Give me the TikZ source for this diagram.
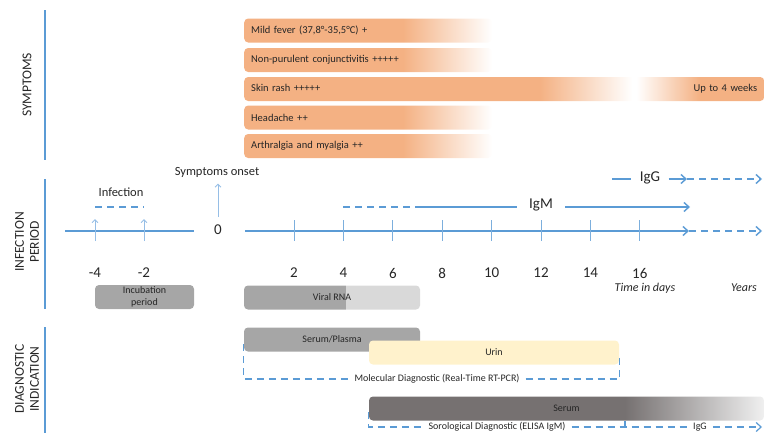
\documentclass[tikz,border=0pt]{standalone}
\usepackage{fontspec}
\setmainfont{Carlito}
\usepackage{xcolor}
\usepackage{tikz}
\usetikzlibrary{positioning,shapes,arrows,arrows.meta,calc}
\definecolor{lineblue}{RGB}{91,155,213}
\definecolor{lightblue}{RGB}{150,190,230}
\definecolor{symorange}{RGB}{244,177,131}
\definecolor{boxgray}{RGB}{166,166,166}
\definecolor{palegray}{RGB}{217,217,217}
\definecolor{urincream}{RGB}{255,242,204}
\definecolor{serumgray}{RGB}{118,113,113}
\definecolor{serumlight}{RGB}{240,240,240}
\definecolor{textgray}{RGB}{38,38,38}

% shadings (25bp = left edge, 75bp = right edge of the box)
\pgfdeclarehorizontalshading{symfade}{100bp}{color(0bp)=(symorange); color(57bp)=(symorange); color(75bp)=(white); color(100bp)=(white)}
\pgfdeclarehorizontalshading{rashfade}{100bp}{color(0bp)=(symorange); color(53.4bp)=(symorange); color(62.3bp)=(white); color(62.7bp)=(white); color(68.8bp)=(symorange); color(100bp)=(symorange)}
\pgfdeclarehorizontalshading{rnasplit}{100bp}{color(0bp)=(boxgray); color(53.7bp)=(boxgray); color(53.8bp)=(palegray); color(100bp)=(palegray)}
\pgfdeclarehorizontalshading{serumfade}{100bp}{color(0bp)=(serumgray); color(57.4bp)=(serumgray); color(75bp)=(serumlight); color(100bp)=(serumlight)}

\begin{document}
\begin{tikzpicture}[x=1pt, y=-1pt, >={Straight Barb[length=5pt, width=9pt]}]
    % Define styles
    \tikzstyle{seclabel} = [rotate=90, align=center, text=textgray, font=\fontsize{13.5}{15}\selectfont]
    \tikzstyle{secline} = [draw=lineblue, line width=1.5pt]
    \tikzstyle{symbar} = [rectangle, rounded corners=4pt, minimum height=24pt, inner xsep=7pt, inner ysep=0pt, text width=234pt, align=left, anchor=west, text=textgray, font=\fontsize{10.5}{12}\selectfont, shading=symfade]
    \tikzstyle{sample} = [rectangle, rounded corners=4pt, minimum height=24pt, inner ysep=0pt, align=center, text=textgray, font=\fontsize{10}{11.5}\selectfont]
    \tikzstyle{numlabel} = [text=textgray, font=\fontsize{15}{17}\selectfont]
    \tikzstyle{eventlabel} = [text=textgray, font=\fontsize{12.5}{14}\selectfont]
    \tikzstyle{unitlabel} = [text=textgray, font=\fontsize{12}{14}\selectfont\itshape]
    \tikzstyle{brlabel} = [text=textgray, inner xsep=6pt, font=\fontsize{10}{12}\selectfont]
    \tikzstyle{axisline} = [draw=lineblue, line width=1.4pt]
    \tikzstyle{tickline} = [draw=lineblue!80, line width=0.9pt]
    \tikzstyle{dashline} = [draw=lineblue, line width=1.4pt, dash pattern=on 7pt off 5pt]
    \tikzstyle{bracket} = [draw=lineblue, line width=1.2pt, dash pattern=on 7pt off 5pt]
    \tikzstyle{uparrow} = [draw=lightblue, line width=0.9pt, -{Straight Barb[length=3pt, width=6pt]}]

    \useasboundingbox (0,0) rectangle (764,439);

    % Sections
    \node [seclabel] (symlab) at (27,85) {SYMPTOMS};
    \node [seclabel] (inflab) at (27,242) {INFECTION\\PERIOD};
    \node [seclabel] (diaglab) at (27,379) {DIAGNOSTIC\\INDICATION};
    \draw [secline] (45,10) -- (45,160);
    \draw [secline] (45,179) -- (45,309);
    \draw [secline] (45,327) -- (45,433);

    % Symptoms
    \node [symbar] (fever) at (244,30.5) {Mild fever (37,8°-35,5°C) +};
    \node [symbar] (conj) at (244,60) {Non-purulent conjunctivitis +++++};
    \node [symbar, text width=506pt, shading=rashfade] (rash) at (244,89) {Skin rash +++++\hfill Up to 4 weeks};
    \node [symbar] (headache) at (244,117.5) {Headache ++};
    \node [symbar] (arthr) at (244,146) {Arthralgia and myalgia ++};

    % Time axis
    \coordinate (axstart) at (65,231);
    \coordinate (axbreakL) at (194,231);
    \coordinate (axbreakR) at (245,231);
    \coordinate (axdays) at (689,231);
    \coordinate (axyears) at (762,231);
    \node [numlabel] (zero) at (218,230) {0};
    \draw [axisline] (axstart) -- (axbreakL);
    \draw [axisline, ->] (axbreakR) -- (axdays);
    \draw [dashline, ->] (axdays) -- (axyears);

    \node [numlabel] (m4) at (95,273) {-4};
    \node [numlabel] (m2) at (144,273) {-2};
    \node [numlabel] (d2) at (294,273) {2};
    \node [numlabel] (d4) at (343.4,273) {4};
    \node [numlabel] (d6) at (392.8,273) {6};
    \node [numlabel] (d8) at (442.2,273) {8};
    \node [numlabel] (d10) at (491.6,273) {10};
    \node [numlabel] (d12) at (541,273) {12};
    \node [numlabel] (d14) at (590.4,273) {14};
    \node [numlabel] (d16) at (639.8,273) {16};
    \foreach \n in {d2,d4,d6,d8,d10,d12,d14,d16}
        \draw [tickline] ([yshift=11pt]\n |- axstart) -- ([yshift=-10pt]\n |- axstart);
    \node [unitlabel] (days) at (645,288) {Time in days};
    \node [unitlabel] (years) at (744,288) {Years};

    % Infection and onset
    \coordinate (infa) at (95,207);
    \coordinate (infb) at (144,207);
    \node [eventlabel] (infection) at (121,192) {Infection};
    \draw [dashline] (infa) -- (infb);
    \draw [uparrow] ([yshift=-10pt]infa |- axstart) -- ([yshift=-12pt]infa);
    \draw [uparrow] ([yshift=-10pt]infb |- axstart) -- ([yshift=-12pt]infb);
    \node [eventlabel] (onset) at (217,172) {Symptoms onset};
    \coordinate (onsetbase) at (218,217);
    \draw [uparrow] (onsetbase) -- ([yshift=-3pt]onsetbase |- onset.south);

    % Antibodies
    \coordinate (igmstart) at (343,207);
    \coordinate (igmsolid) at (419,207);
    \coordinate (igmend) at (690,207);
    \node [numlabel] (igm) at (541,205) {IgM};
    \draw [dashline] (igmstart) -- (igmsolid);
    \draw [axisline] (igmsolid) -- ([xshift=-9pt]igm.west |- igmsolid);
    \draw [axisline, ->] ([xshift=9pt]igm.east |- igmsolid) -- (igmend);
    \coordinate (iggstart) at (612,179);
    \coordinate (iggdays) at (687,179);
    \coordinate (iggyears) at (762,179);
    \node [numlabel] (igg) at (650,178) {IgG};
    \draw [axisline] (iggstart) -- ([xshift=-5pt]igg.west |- iggstart);
    \draw [axisline, ->] ([xshift=5pt]igg.east |- iggstart) -- (iggdays);
    \draw [dashline, ->] (iggdays) -- (iggyears);

    % Samples
    \node [sample, fill=boxgray, minimum width=99pt] (incub) at (144.5,297) {Incubation\\period};
    \node [sample, shading=rnasplit, minimum width=176pt] (rna) at (332,297.5) {Viral RNA};
    \node [sample, fill=boxgray, minimum width=176pt] (plasma) at (332,339.5) {Serum/Plasma};
    \node [sample, fill=urincream, minimum width=250pt] (urin) at (494,352.5) {Urin};
    \node [sample, shading=serumfade, minimum width=395pt] (serum) at (566.5,408.5) {Serum};

    % Diagnostics
    \node [brlabel] (molec) at (437,379) {Molecular Diagnostic (Real-Time RT-PCR)};
    \draw [bracket] (plasma.west |- 0,344) -- (plasma.west |- molec) -- (molec.west);
    \draw [bracket] (molec.east) -- (urin.east |- molec) -- (urin.east |- 0,358);
    \node [brlabel] (sero) at (497,427) {Sorological Diagnostic (ELISA IgM)};
    \node [brlabel] (iggdiag) at (700,427) {IgG};
    \coordinate (serotick) at (625,427);
    \coordinate (seroend) at (762,427);
    \draw [bracket] (serum.west |- 0,412) -- (serum.west |- sero) -- (sero.west);
    \draw [bracket] (sero.east) -- (serotick) -- (iggdiag.west);
    \draw [bracket] (serotick) -- ++(0,-6);
    \draw [bracket, ->] (iggdiag.east) -- (seroend);
\end{tikzpicture}
\end{document}
